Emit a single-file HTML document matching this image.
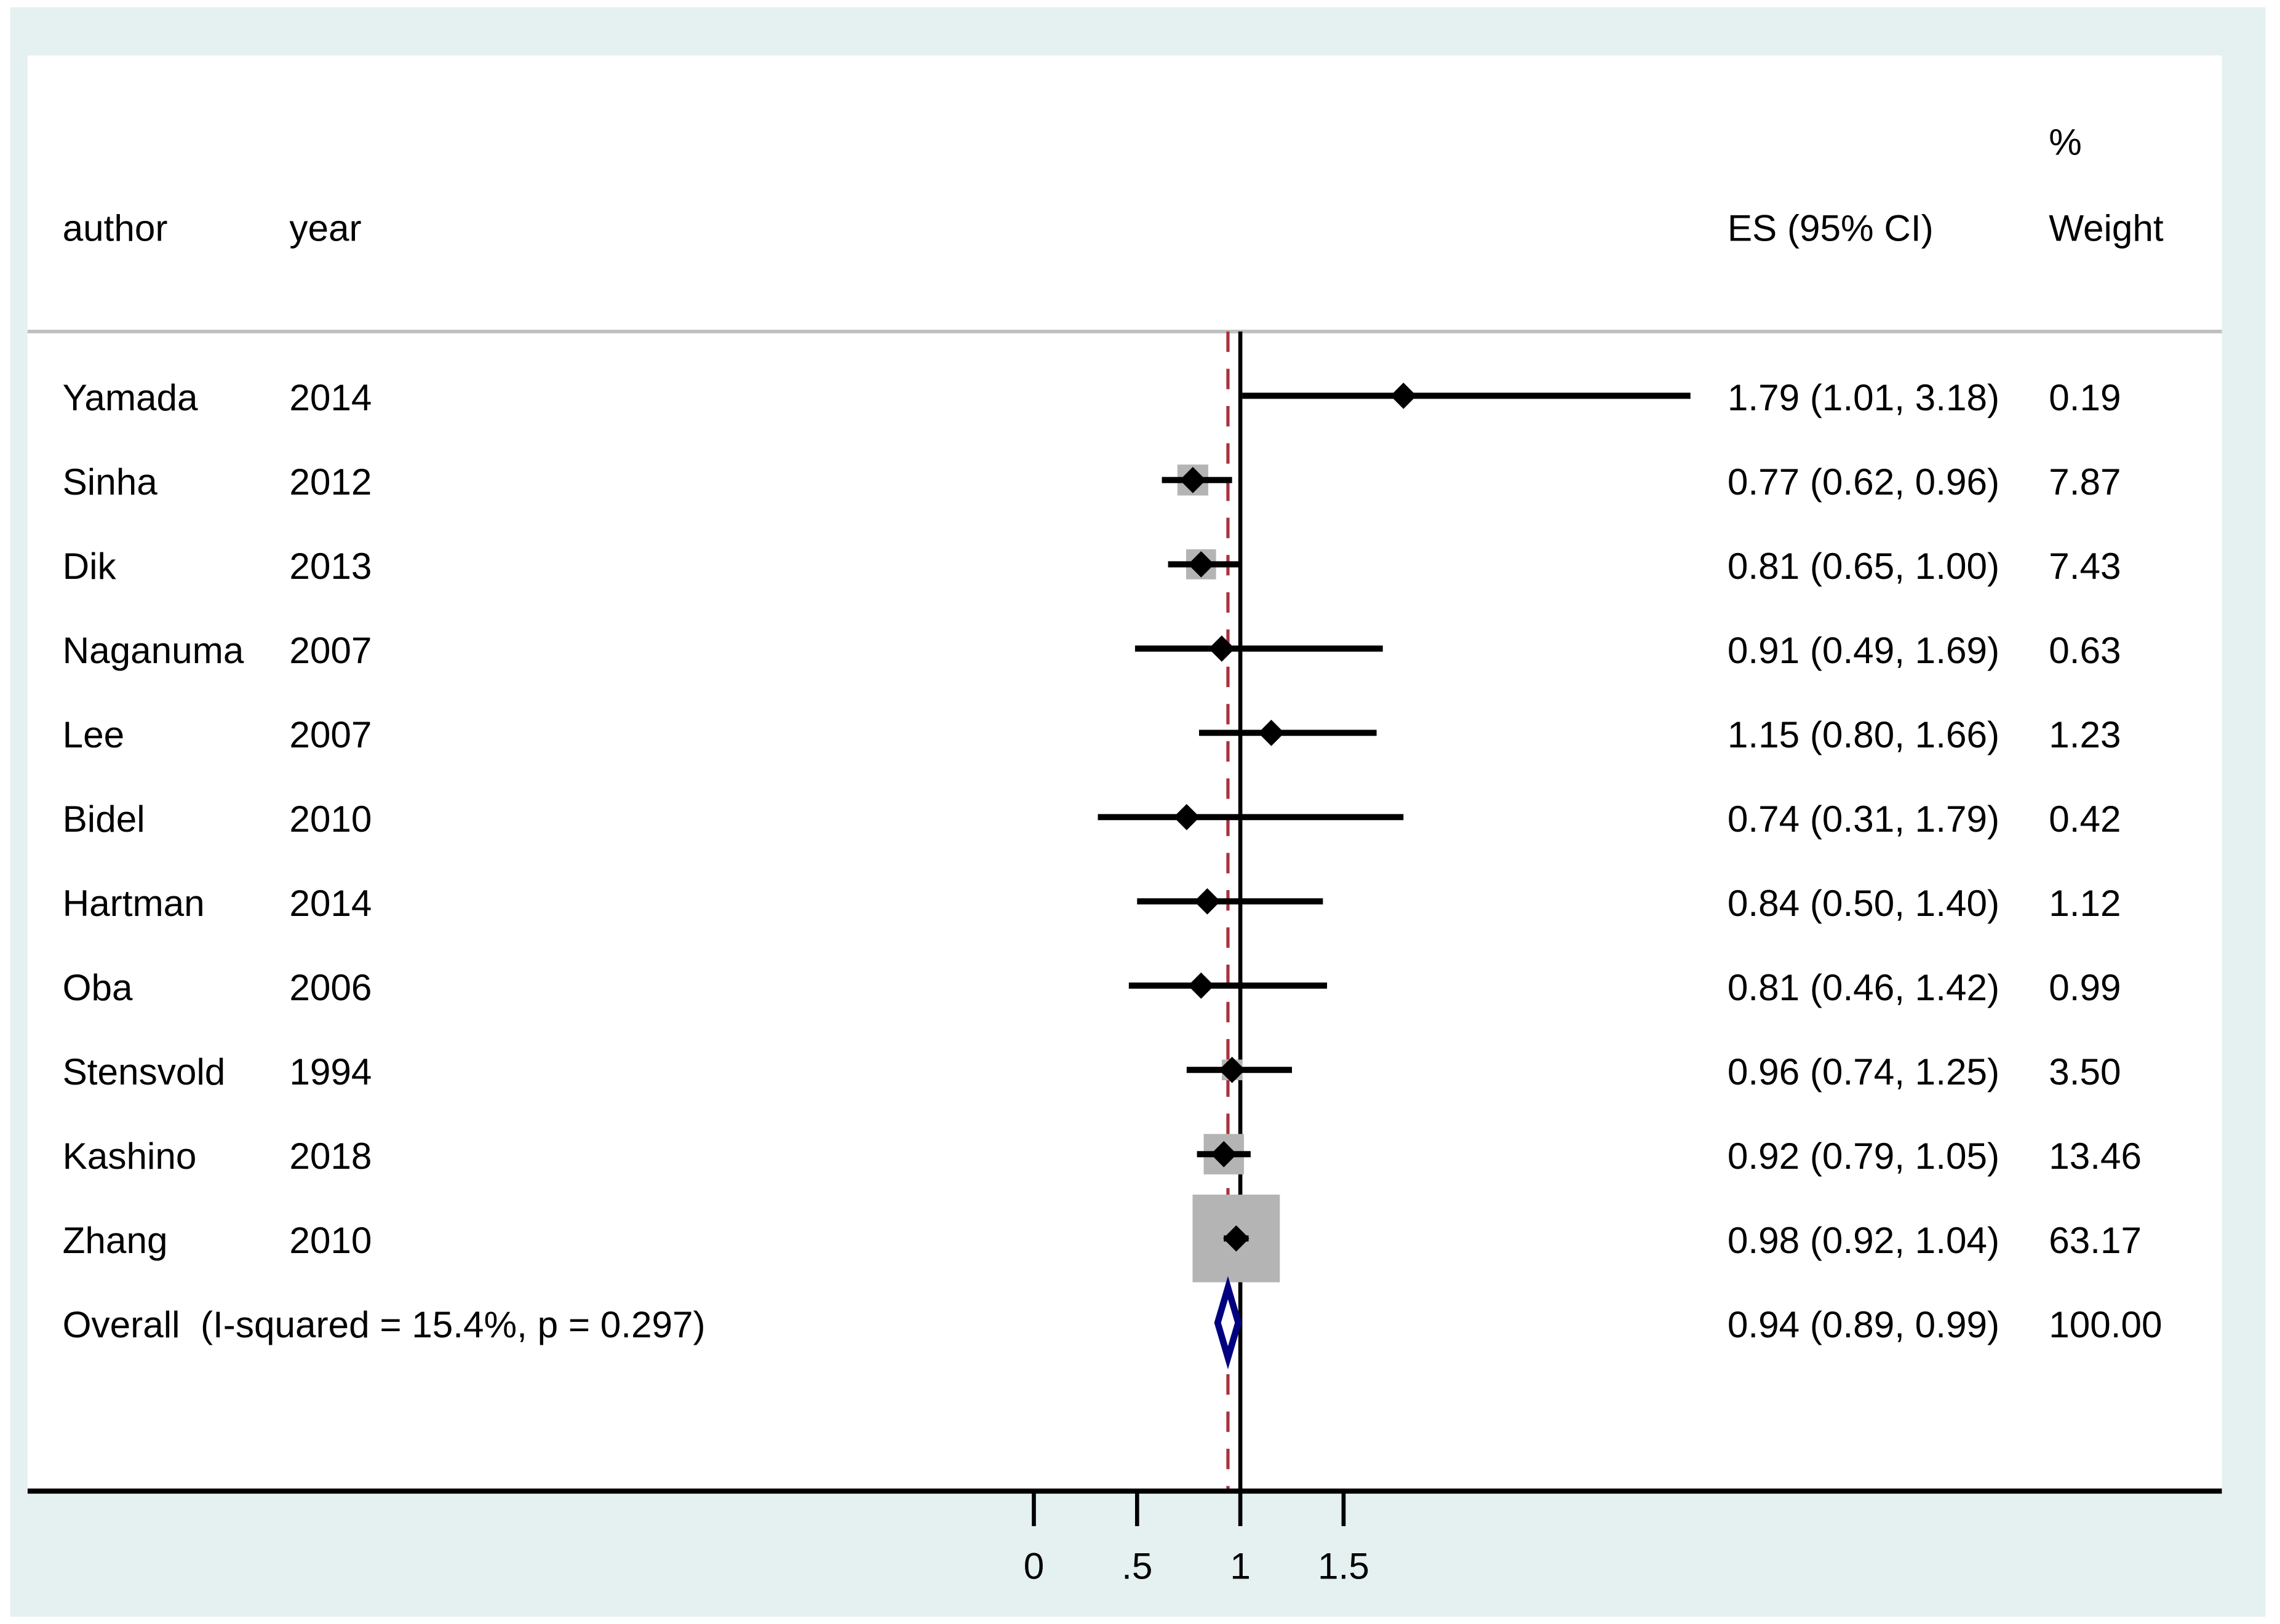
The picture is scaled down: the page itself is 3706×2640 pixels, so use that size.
<!DOCTYPE html>
<html><head><meta charset="utf-8"><style>
html,body{margin:0;padding:0;background:#fff;}
svg{display:block;}
text{font-family:"Liberation Sans",Arial,sans-serif;fill:#000;white-space:pre;}
</style></head><body>
<svg id="chart" width="3706" height="2640" viewBox="0 0 1568 1112" preserveAspectRatio="none" xmlns="http://www.w3.org/2000/svg">
<rect x="7" y="5" width="1551" height="1102" fill="#e5f0f0"/>
<rect x="19" y="38" width="1509" height="982" fill="#ffffff"/>
<line x1="19" y1="227" x2="1528" y2="227" stroke="#c0c0c0" stroke-width="2.5"/>
<g font-size="25.5">
<text x="43" y="165">author</text>
<text x="199" y="165">year</text>
<text x="1188" y="165">ES (95% CI)</text>
<text x="1409" y="106">%</text>
<text x="1409" y="165">Weight</text>
</g>
<g id="rows"></g>
<g id="axis"></g>
</svg>
<script>
const authors = ["Yamada","Sinha","Dik","Naganuma","Lee","Bidel","Hartman","Oba","Stensvold","Kashino","Zhang"];
const years = ["2014","2012","2013","2007","2007","2010","2014","2006","1994","2018","2010"];
const es = [1.79,0.77,0.81,0.91,1.15,0.74,0.84,0.81,0.96,0.92,0.98];
const lo = [1.01,0.62,0.65,0.49,0.80,0.31,0.50,0.46,0.74,0.79,0.92];
const hi = [3.18,0.96,1.00,1.69,1.66,1.79,1.40,1.42,1.25,1.05,1.04];
const weights = [0.19,7.87,7.43,0.63,1.23,0.42,1.12,0.99,3.50,13.46,63.17];
const overall = [0.94,0.89,0.99];
const overallLabel = "Overall  (I-squared = 15.4%, p = 0.297)";
const ticks = [0,0.5,1,1.5];
const tickLabels = ["0",".5","1","1.5"];

const NS="http://www.w3.org/2000/svg";
const x = v => 711 + 142*v;
const rowY = i => 271 + 57.7*i;
const clipX = 1166;
function mk(tag, attrs, parent){const e=document.createElementNS(NS,tag);for(const k in attrs)e.setAttribute(k,attrs[k]);parent.appendChild(e);return e;}
const rows=document.getElementById('rows');
const axis=document.getElementById('axis');

let nl=mk('line',{x1:x(1),y1:227,x2:x(1),y2:1020,stroke:'#000','stroke-width':2.8},rows);


let ol=mk('line',{x1:x(overall[0]),y1:227,x2:x(overall[0]),y2:1020,stroke:'#a8323e','stroke-width':2.2,'stroke-dasharray':'14 11.5'},rows);



const fmt=v=>v.toFixed(2);
authors.forEach((a,i)=>{
  const y=rowY(i);
  const g=mk('g',{},rows);
  
  
  const s=7.55*Math.sqrt(weights[i]);
  const b=mk('rect',{x:x(es[i])-s/2,y:y-s/2,width:s,height:s,fill:'#b4b4b4'},g);
  
  
  const l=mk('line',{x1:x(lo[i]),y1:y,x2:Math.min(x(hi[i]),clipX),y2:y,stroke:'#000','stroke-width':4.2},g);
  
  
  const cx=x(es[i]);
  const d=mk('polygon',{points:`${cx-9},${y} ${cx},${y-9} ${cx+9},${y} ${cx},${y+9}`,fill:'#000'},g);
  
  
  const t1=mk('text',{x:43,y:y+10,'font-size':25.5},g);t1.textContent=a;
  
  
  const t2=mk('text',{x:199,y:y+10,'font-size':25.5},g);t2.textContent=years[i];
  
  
  const t3=mk('text',{x:1188,y:y+10,'font-size':25.5},g);t3.textContent=`${fmt(es[i])} (${fmt(lo[i])}, ${fmt(hi[i])})`;
  
  
  const t4=mk('text',{x:1409,y:y+10,'font-size':25.5},g);t4.textContent=fmt(weights[i]);
  
  
});
(function(){
  const y=rowY(11);
  const g=mk('g',{},rows);
  
  
  const p=mk('polygon',{points:`${x(overall[1])},${y} ${x(overall[0])},${y-24} ${x(overall[2])},${y} ${x(overall[0])},${y+24}`,fill:'#fff',stroke:'#000080','stroke-width':4.5},g);
  
  
  const t1=mk('text',{x:43,y:y+10,'font-size':25.5},g);t1.textContent=overallLabel;
  
  
  const t3=mk('text',{x:1188,y:y+10,'font-size':25.5},g);t3.textContent=`${fmt(overall[0])} (${fmt(overall[1])}, ${fmt(overall[2])})`;
  
  
  const t4=mk('text',{x:1409,y:y+10,'font-size':25.5},g);t4.textContent="100.00";
  
  
})();
const al=mk('line',{x1:19,y1:1021,x2:1528,y2:1021,stroke:'#000','stroke-width':3.5},axis);


ticks.forEach((v,i)=>{
  const t=mk('line',{x1:x(v),y1:1021,x2:x(v),y2:1045,stroke:'#000','stroke-width':2.8},axis);
  
  
  const lb=mk('text',{x:x(v),y:1081,'font-size':25.5,'text-anchor':'middle'},axis);
  lb.textContent=tickLabels[i];
  
  
});
</script>
</body></html>
